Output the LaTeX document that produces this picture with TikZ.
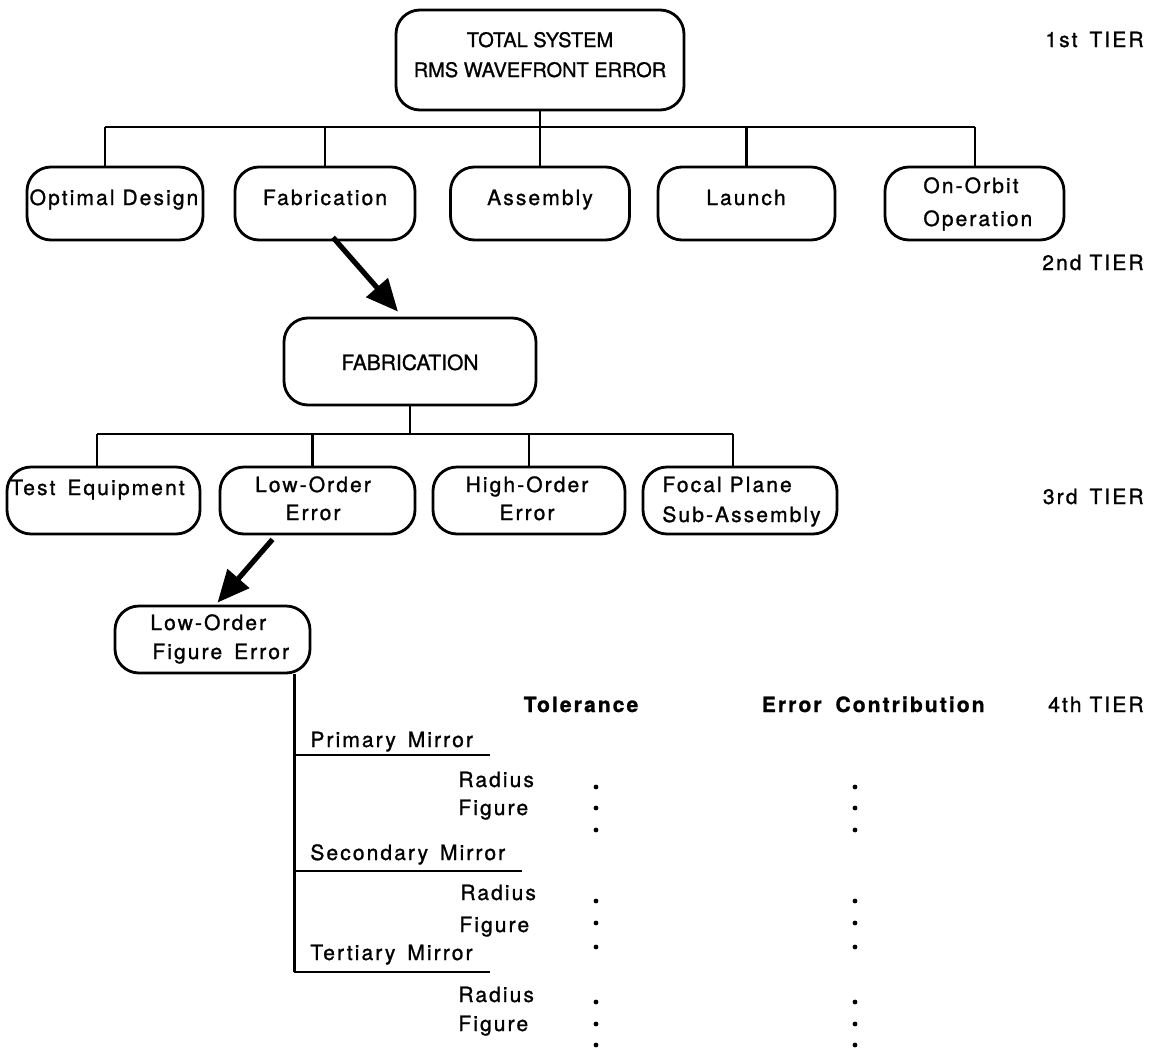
\documentclass[tikz,border=0pt]{standalone}
\usepackage{fontspec}
\setmainfont{TeX Gyre Heros}
\newfontfamily\spfont[LetterSpace=10,FakeBold=1.2]{TeX Gyre Heros}
\newfontfamily\capfont[FakeBold=1.0]{TeX Gyre Heros}
\usetikzlibrary{arrows.meta,calc}
\begin{document}
\begin{tikzpicture}[x=0.5pt,y=-0.5pt,
  box/.style={draw, line width=1.4pt, rounded corners=12pt, inner sep=0pt},
  conn/.style={line width=1.3pt},
  bigarrow/.style={line width=2.6pt, -{Triangle[length=16pt,width=14pt]}},
  lbl/.style={font=\spfont\fontsize{10.5}{12}\selectfont, inner sep=0pt},
  capt/.style={font=\capfont\fontsize{10}{12}\selectfont, inner sep=0pt},
  hd/.style={font=\spfont\bfseries\fontsize{10.5}{12}\selectfont, inner sep=0pt},
  dotm/.style={fill, circle, inner sep=0pt, minimum size=2.4pt}
]
\useasboundingbox (0,0) rectangle (1152,1050);

% ---------- 1st tier
\node[box, minimum width=144pt, minimum height=50pt] (top) at (540,60) {};
\node[capt, anchor=base] (t1) at (540,47) {TOTAL SYSTEM};
\node[capt, anchor=base] (t2) at (540,77) {RMS WAVEFRONT ERROR};
\node[lbl, anchor=base east] (tier1) at (1144,47) {1st\hspace{2pt} TIER};

% ---------- 2nd tier
\node[box, minimum width=88pt, minimum height=36.5pt] (opt) at (115,203.5) {};
\node[box, minimum width=90pt, minimum height=36.5pt] (fab) at (325,203.5) {};
\node[box, minimum width=89.5pt, minimum height=36.5pt] (asm) at (540,203.5) {};
\node[box, minimum width=88.5pt, minimum height=36.5pt] (lau) at (746.5,203.5) {};
\node[box, minimum width=89.5pt, minimum height=36.5pt] (orb) at (974.5,203.5) {};
\node[lbl, anchor=base] (opt-t) at (114,205) {Optimal Design};
\node[lbl, anchor=base] (fab-t) at (325,205) {Fabrication};
\node[lbl, anchor=base] (asm-t) at (540,205) {Assembly};
\node[lbl, anchor=base] (lau-t) at (746,205) {Launch};
\node[lbl, anchor=base west] (orb-t1) at (923,193) {On-Orbit};
\node[lbl, anchor=base west] (orb-t2) at (923,226) {Operation};
\node[lbl, anchor=base east] (tier2) at (1144,270) {2nd TIER};

\coordinate (busL) at (105,127);
\coordinate (busR) at (975,127);
\draw[conn] (busL) -- (busR);
\draw[conn] (top.south) -- (asm.north);
\draw[conn] (busL) -- (busL |- opt.north);
\draw[conn] (fab.north |- busL) -- (fab.north);
\draw[conn] (lau.north |- busL) -- (lau.north);
\draw[conn] (busR) -- (busR |- orb.north);

% ---------- FABRICATION
\node[box, minimum width=126pt, minimum height=43.5pt] (FAB) at (410,361.5) {};
\node[capt, anchor=base, font=\capfont\fontsize{10.5}{12}\selectfont] (FAB-t) at (410,370) {FABRICATION};
\draw[bigarrow] ($(fab.south)+(8,-4)$) -- ($(FAB.north)+(-12,-5)$);

% ---------- 3rd tier
\node[box, minimum width=96.5pt, minimum height=33.5pt] (tst) at (103.5,500.5) {};
\node[box, minimum width=97.5pt, minimum height=33.5pt] (low) at (317.5,500.5) {};
\node[box, minimum width=96pt, minimum height=33.5pt] (hig) at (529,500.5) {};
\node[box, minimum width=97pt, minimum height=33.5pt] (foc) at (740,500.5) {};
\node[lbl, anchor=base west] (tst-t) at (10,495) {Test\hspace{2pt} Equipment};
\node[lbl, anchor=base] (low-t1) at (313,492) {Low-Order};
\node[lbl, anchor=base] (low-t2) at (313,520) {Error};
\node[lbl, anchor=base] (hig-t1) at (527,492) {High-Order};
\node[lbl, anchor=base] (hig-t2) at (527,520) {Error};
\node[lbl, anchor=base west] (foc-t1) at (662,492) {Focal Plane};
\node[lbl, anchor=base west] (foc-t2) at (662,522) {Sub-Assembly};
\node[lbl, anchor=base east] (tier3) at (1144,504) {3rd\hspace{2pt} TIER};

\coordinate (bus3L) at (97,434);
\coordinate (bus3R) at (733,434);
\draw[conn] (bus3L) -- (bus3R);
\draw[conn] (FAB.south) -- (FAB.south |- bus3L);
\draw[conn] (bus3L) -- (bus3L |- tst.north);
\draw[conn] ($(low.north)+(-5,0)$) -- ($(low.north |- bus3L)+(-5,0)$);
\draw[conn] (hig.north) -- (hig.north |- bus3L);
\draw[conn] (bus3R) -- (bus3R |- foc.north);

% ---------- Low-order figure error
\node[box, minimum width=97.5pt, minimum height=33.5pt] (lofe) at (212.5,639.5) {};
\node[lbl, anchor=base west] (lofe-t1) at (150,630) {Low-Order};
\node[lbl, anchor=base west] (lofe-t2) at (152,659) {Figure\hspace{2pt} Error};
\draw[bigarrow] ($(low.south)+(-45,4)$) -- ($(lofe.north)+(5,-2)$);

% ---------- 4th tier table
\coordinate (vtop) at ($(lofe.south east)+(-17,0)$);
\coordinate (u1) at (vtop |- 0,755);
\coordinate (u2) at (vtop |- 0,871);
\coordinate (u3) at (vtop |- 0,972);
\draw[conn] (vtop) -- (u3);
\draw[conn] (u1) -- (490,755);
\draw[conn] (u2) -- (522,871);
\draw[conn] (u3) -- (490,972);

\node[hd, anchor=base] (tol) at (581,712) {Tolerance};
\node[hd, anchor=base east] (ec) at (985,712) {Error\hspace{3pt} Contribution};
\node[lbl, anchor=base east] (tier4) at (1144,712) {4th TIER};

\node[lbl, anchor=base west] (pm) at (310,747) {Primary\hspace{2pt} Mirror};
\node[lbl, anchor=base west] (pr) at (458,787) {Radius};
\node[lbl, anchor=base west] (pf) at (458,815) {Figure};
\node[lbl, anchor=base west] (sm) at (310,860) {Secondary\hspace{2pt} Mirror};
\node[lbl, anchor=base west] (sr) at (460,900) {Radius};
\node[lbl, anchor=base west] (sf) at (459,932) {Figure};
\node[lbl, anchor=base west] (tm) at (310,960) {Tertiary\hspace{2pt} Mirror};
\node[lbl, anchor=base west] (tr) at (458,1002) {Radius};
\node[lbl, anchor=base west] (tf) at (458,1031) {Figure};

\foreach \yy [count=\i] in {787,808,830,901,923,947,1002,1024,1045}{
  \node[dotm] (da\i) at (596,\yy) {};
  \node[dotm] (db\i) at (855,\yy) {};
}
\end{tikzpicture}
\end{document}
